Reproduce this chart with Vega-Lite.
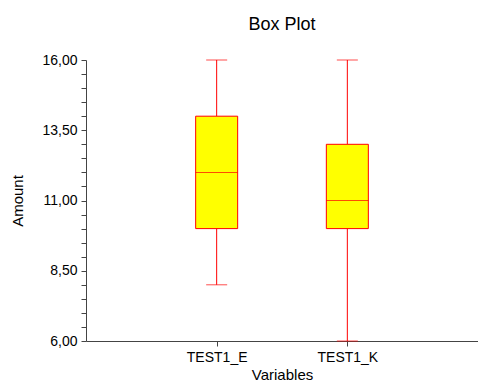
{
  "$schema": "https://vega.github.io/schema/vega-lite/v6.json",
  "autosize": {"type": "none"},
  "padding": {"left": 86, "top": 60, "right": 0, "bottom": 42},
  "width": 392,
  "height": 281,
  "background": "white",
  "title": {"text": "Box Plot", "fontSize": 18, "font": "Liberation Sans", "fontWeight": "normal", "color": "black", "baseline": "alphabetic", "offset": 5, "anchor": "middle"},
  "data": {"values": [
    {"variable": "TEST1_E", "min": 8, "q1": 10, "median": 12, "q3": 14, "max": 16},
    {"variable": "TEST1_K", "min": 6, "q1": 10, "median": 11, "q3": 13, "max": 16}
  ]},
  "config": {
    "view": {"stroke": null},
    "axis": {"labelFont": "Liberation Sans", "titleFont": "Liberation Sans", "labelColor": "black", "titleColor": "black", "domainColor": "#444444", "tickColor": "#444444", "grid": false, "titleFontWeight": "normal"}
  },
  "encoding": {
    "x": {"field": "variable", "type": "nominal", "scale": {"type": "point", "padding": 1},
      "axis": {"title": "Variables", "labelAngle": 0, "labelFontSize": 14, "titleFontSize": 15, "tickSize": 5, "labelPadding": 4, "titlePadding": 3}}
  },
  "layer": [
    {"mark": {"type": "rule", "color": "#FF0000", "strokeWidth": 1},
     "encoding": {"y": {"field": "min", "type": "quantitative", "scale": {"domain": [6, 16], "nice": false, "zero": false},
        "axis": {"title": "Amount", "titleFontSize": 15, "labelFontSize": 14, "tickSize": 5, "labelPadding": 4, "titlePadding": 16,
          "labelOverlap": false, "labelFlush": false, "tickCount": 21,
          "values": [6,6.5,7,7.5,8,8.5,9,9.5,10,10.5,11,11.5,12,12.5,13,13.5,14,14.5,15,15.5,16],
          "labelExpr": "(datum.value - 6) % 2.5 == 0 ? replace(format(datum.value, '.2f'), '.', ',') : ''"}},
       "y2": {"field": "q1"}}},
    {"mark": {"type": "rule", "color": "#FF0000", "strokeWidth": 1},
     "encoding": {"y": {"field": "q3", "type": "quantitative"}, "y2": {"field": "max"}}},
    {"mark": {"type": "tick", "color": "#FF0000", "size": 21, "thickness": 1},
     "encoding": {"y": {"field": "min", "type": "quantitative"}}},
    {"mark": {"type": "tick", "color": "#FF0000", "size": 21, "thickness": 1},
     "encoding": {"y": {"field": "max", "type": "quantitative"}}},
    {"mark": {"type": "bar", "fill": "#FFFF00", "stroke": "#FF0000", "strokeWidth": 1, "size": 42},
     "encoding": {"y": {"field": "q1", "type": "quantitative"}, "y2": {"field": "q3"}}},
    {"mark": {"type": "tick", "color": "#FF0000", "size": 42, "thickness": 1},
     "encoding": {"y": {"field": "median", "type": "quantitative"}}}
  ]
}
